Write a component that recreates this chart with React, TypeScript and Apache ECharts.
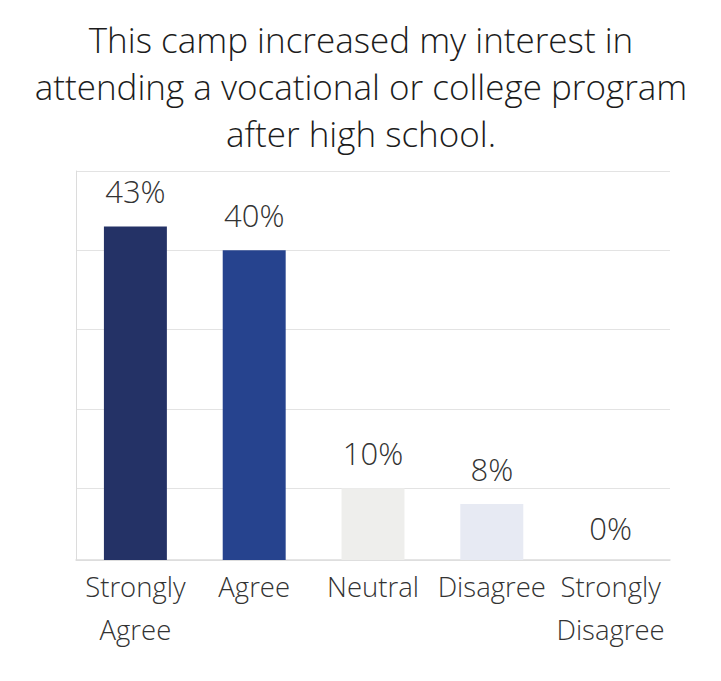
import { useEffect, useRef } from "react";
import * as echarts from "echarts";

const categories = ["Strongly\nAgree", "Agree", "Neutral", "Disagree", "Strongly\nDisagree"];
const percents = [43, 40, 10, 8, 0];
const barColors = ["#243266", "#26438e", "#eeeeec", "#e7eaf3", "#e7eaf3"];

const FONT = "'Open Sans', 'Noto Sans', sans-serif";

export default function App() {
  const chartRef = useRef<HTMLDivElement | null>(null);

  useEffect(() => {
    document.body.style.margin = "0";
    if (!chartRef.current) return;
    const chart = echarts.init(chartRef.current, null, { renderer: "svg" });

    const labelStyle = {
      show: true,
      position: "top",
      formatter: "{c}%",
      fontFamily: FONT,
      fontWeight: 300,
      fontSize: 31,
      color: "#333",
    };

    chart.setOption({
      animation: false,
      backgroundColor: "#fff",
      title: {
        text: "This camp increased my interest in\nattending a vocational or college program\nafter high school.",
        left: 356,
        top: 11,
        textAlign: "center",
        textStyle: {
          fontFamily: FONT,
          fontWeight: 300,
          fontSize: 35,
          lineHeight: 47,
          color: "#1c1c1c",
        },
      },
      grid: { left: 76, right: 51, top: 171, bottom: 121 },
      xAxis: {
        type: "category",
        data: categories,
        axisLine: { lineStyle: { color: "#dcdcdc", width: 1.5 } },
        axisTick: { show: false },
        axisLabel: {
          fontFamily: FONT,
          fontWeight: 300,
          fontSize: 27.5,
          lineHeight: 43,
          margin: 5,
          color: "#333",
          interval: 0,
        },
      },
      yAxis: {
        type: "value",
        min: 0.95,
        max: 50,
        splitNumber: 5,
        axisLine: { show: true, lineStyle: { color: "#dcdcdc" } },
        axisTick: { show: false },
        axisLabel: { show: false },
        splitLine: { lineStyle: { color: "#e3e3e3" } },
      },
      series: [
        {
          type: "bar",
          barWidth: "53%",
          data: percents.map((v, i) =>
            v > 0 ? { value: v, itemStyle: { color: barColors[i] } } : null
          ),
          label: { ...labelStyle, distance: 20 },
        },
        {
          // zero-valued bars sit below the axis floor; keep their labels visible
          type: "bar",
          barWidth: "53%",
          barGap: "-100%",
          clip: false,
          data: percents.map((v, i) =>
            v > 0 ? null : { value: v, itemStyle: { color: barColors[i] } }
          ),
          label: { ...labelStyle, distance: 24 },
        },
      ],
    });

    return () => {
      chart.dispose();
    };
  }, []);

  return <div ref={chartRef} style={{ width: 721, height: 681 }} />;
}
